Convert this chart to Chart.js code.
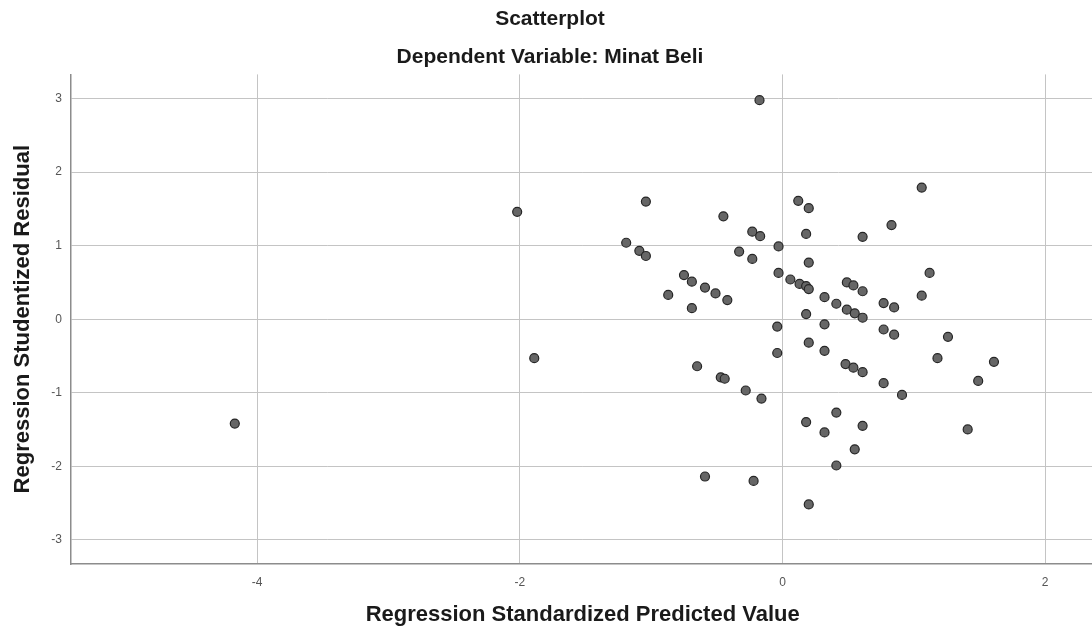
<!DOCTYPE html>
<html>
<head>
<meta charset="utf-8">
<script src="https://cdn.jsdelivr.net/npm/chart.js@4"></script>
<style>
    body { margin: 0; overflow: hidden; background: #fff; }
    #wrap { width: 1100px; height: 633px; }
</style>
</head>
<body>
<div id="wrap"><canvas id="scatter" width="1100" height="633"></canvas></div>
<script>
// values
const predictedValues = [
    -0.175, -1.04, 0.12, 0.20, -0.45, -0.23, -0.17, 0.18, 0.61, -1.19,
    -0.03, -1.09, -1.04, -0.33, -0.23, 0.20, -0.03, -0.75, -0.69, 0.06,
    0.13, 0.18, 0.20, -0.87, -0.59, -0.51, -0.42, -0.69, 0.32, 0.49,
    0.54, 0.61, 0.41, 0.49, 0.55, 0.61, 0.18, -0.04, 0.32, 0.20,
    -0.04, 0.32, 0.48, 0.54, 0.61, -0.65, -0.47, -0.44, -0.28, -0.16,
    0.41, 0.18, 0.32, 0.61, 0.55, 0.41, -0.59, -0.22, 0.20, 1.06,
    0.83, 1.12, 1.06, 0.77, 0.85, 0.77, 0.85, 1.26, 1.18, 1.61,
    1.49, 0.77, 0.91, 1.41, -2.02, -1.89, -4.17
]
const residualValues = [
    2.98, 1.60, 1.61, 1.51, 1.40, 1.19, 1.13, 1.16, 1.12, 1.04,
    0.99, 0.93, 0.86, 0.92, 0.82, 0.77, 0.63, 0.60, 0.51, 0.54,
    0.48, 0.45, 0.41, 0.33, 0.43, 0.35, 0.26, 0.15, 0.30, 0.50,
    0.46, 0.38, 0.21, 0.13, 0.08, 0.02, 0.07, -0.10, -0.07, -0.32,
    -0.46, -0.43, -0.61, -0.66, -0.72, -0.64, -0.79, -0.81, -0.97, -1.08,
    -1.27, -1.40, -1.54, -1.45, -1.77, -1.99, -2.14, -2.20, -2.52, 1.79,
    1.28, 0.63, 0.32, 0.22, 0.16, -0.14, -0.21, -0.24, -0.53, -0.58,
    -0.84, -0.87, -1.03, -1.50, 1.46, -0.53, -1.42
]
const xTicks = [-4, -2, 0, 2]
const yTicks = [-3, -2, -1, 0, 1, 2, 3]

const FONT = "'Liberation Sans', Arial, sans-serif"
const GRID_COLOR = '#c4c4c4'
const AXIS_COLOR = '#8c8c8c'

var points = []
for (var i = 0; i < predictedValues.length; i ++) {
    points.push({x: predictedValues[i], y: residualValues[i]})
}

const config = {
    type: 'scatter',
    data: {
        datasets: [{
            data: points,
            pointRadius: 4.5,
            pointBackgroundColor: '#666666',
            pointBorderColor: '#262626',
            pointBorderWidth: 1.2,
        }]
    },
    options: {
        responsive: false,
        animation: false,
        devicePixelRatio: 1,
        layout: { padding: 0 },
        plugins: {
            legend: { display: false },
            tooltip: { enabled: false },
            title: {
                display: true,
                text: 'Scatterplot',
                color: '#1a1a1a',
                font: { family: FONT, size: 21, weight: 'bold', lineHeight: 1.2 },
                padding: { top: 7, bottom: 12 }
            },
            subtitle: {
                display: true,
                text: 'Dependent Variable: Minat Beli',
                color: '#1a1a1a',
                font: { family: FONT, size: 21, weight: 'bold', lineHeight: 1.2 },
                padding: { top: 0, bottom: 5 }
            }
        },
        scales: {
            x: {
                type: 'linear',
                min: -5.417,
                max: 2.374,
                afterBuildTicks: function(scale) {
                    scale.ticks = xTicks.map(v => ({value: v}))
                },
                afterFit: function(scale) { scale.height = 69 },
                grid: { color: GRID_COLOR, lineWidth: 1, drawTicks: false },
                border: { color: AXIS_COLOR, width: 1.5 },
                ticks: {
                    padding: 11,
                    color: '#555',
                    font: { family: FONT, size: 12 },
                    callback: v => String(v)
                },
                title: {
                    display: true,
                    text: 'Regression Standardized Predicted Value',
                    color: '#1a1a1a',
                    font: { family: FONT, size: 22, weight: 'bold', lineHeight: 1.2 },
                    padding: { top: 0, bottom: 5 }
                }
            },
            y: {
                type: 'linear',
                min: -3.33,
                max: 3.33,
                afterBuildTicks: function(scale) {
                    scale.ticks = yTicks.map(v => ({value: v}))
                },
                afterFit: function(scale) { scale.width = 71 },
                grid: { color: GRID_COLOR, lineWidth: 1, drawTicks: false },
                border: { color: AXIS_COLOR, width: 1.5 },
                ticks: {
                    padding: 9,
                    color: '#555',
                    font: { family: FONT, size: 12 },
                    callback: v => String(v)
                },
                title: {
                    display: true,
                    text: 'Regression Studentized Residual',
                    color: '#1a1a1a',
                    font: { family: FONT, size: 22, weight: 'bold', lineHeight: 1.2 },
                    padding: { top: 10, bottom: 0 }
                }
            }
        }
    }
}

const scatterChart = new Chart(document.getElementById('scatter'), config)
</script>
</body>
</html>
